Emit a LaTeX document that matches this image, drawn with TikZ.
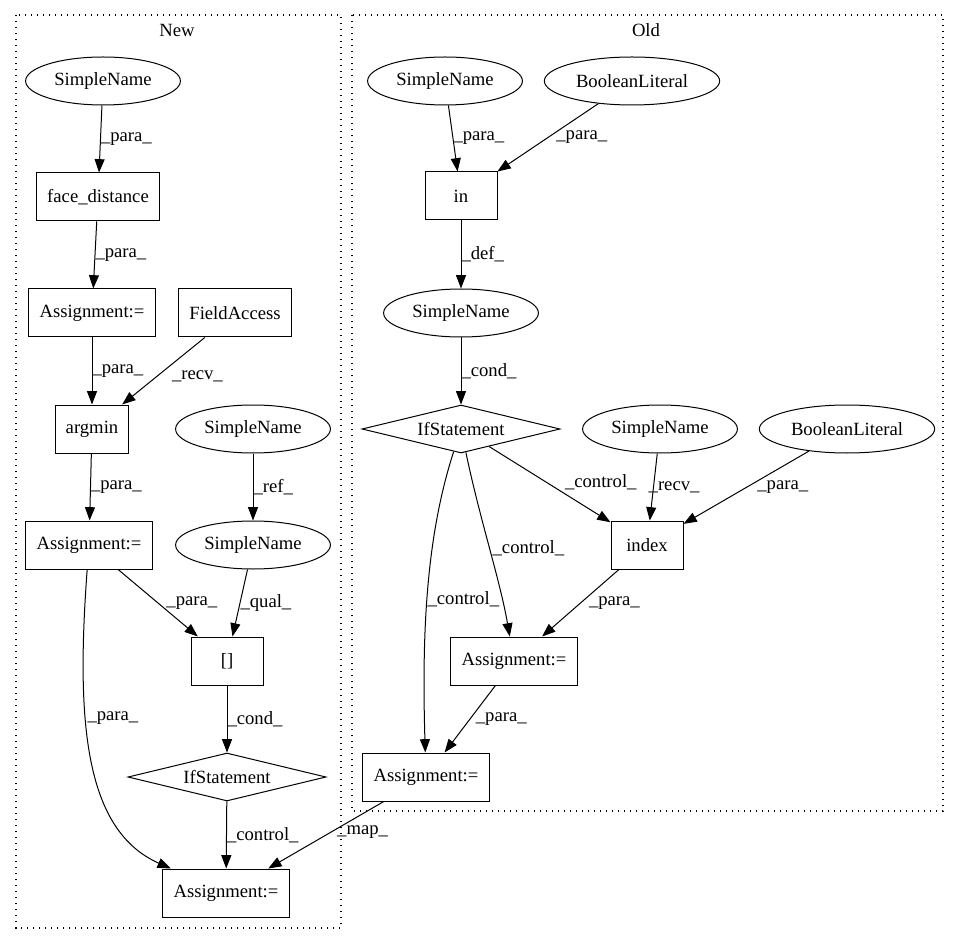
\documentclass[tikz,border=0pt]{standalone}
\usepackage{fontspec}
\setmainfont{Liberation Serif}
\usetikzlibrary{shapes.geometric,arrows.meta}

\tikzset{every picture/.style={line width=0.75pt}}
\tikzset{
  gfont/.style={font=\fontsize{14}{16}\selectfont},
  stmt/.style={gfont, draw, rectangle, minimum width=54pt, minimum height=36pt, inner xsep=8pt},
  sname/.style={gfont, draw, ellipse, minimum height=36pt, inner xsep=4.5pt, inner ysep=0pt},
  cond/.style={gfont, draw, diamond, aspect=4.1, minimum width=148.5pt, minimum height=36pt, inner sep=0pt},
  flow/.style={-{Triangle[length=10pt,width=7.5pt]}},
  elab/.style={gfont, anchor=west, inner sep=0pt},
  cluster/.style={line width=1pt, dash pattern=on 1pt off 3.5pt},
}

\begin{document}
\begin{tikzpicture}[x=0.75pt,y=0.75pt,yscale=-1]
\useasboundingbox (0,0) rectangle (959,944);

% Clusters
\draw[cluster] (16,15) rectangle (341,928);
\draw[cluster] (352,15) rectangle (943,811);
\node[gfont] (newtitle) at (177,30) {New};
\node[gfont] (oldtitle) at (646,30) {Old};

% New
\node[sname] (nsn1) at (103,81) {SimpleName};
\node[stmt] (nfd) at (98,197) {face\_distance};
\node[stmt] (na1) at (92,313) {Assignment:=};
\node[stmt] (nfa) at (235,313) {FieldAccess};
\node[stmt] (narg) at (92,429) {argmin};
\node[sname] (nsn2) at (253,429) {SimpleName};
\node[stmt] (na2) at (89,545) {Assignment:=};
\node[sname] (nsn3) at (253,545) {SimpleName};
\node[stmt] (nidx) at (227,661) {[]};
\node[cond] (nif) at (227,777) {IfStatement};
\node[stmt] (na3) at (226,893) {Assignment:=};

% Old
\node[sname] (osn1) at (445,81) {SimpleName};
\node[sname] (obl1) at (632,81) {BooleanLiteral};
\node[stmt] (oin) at (461,196) {in};
\node[sname] (osn2) at (461,313) {SimpleName};
\node[cond] (oif) at (461,429) {IfStatement};
\node[sname] (osn3) at (660,429) {SimpleName};
\node[sname] (obl2) at (847,429) {BooleanLiteral};
\node[stmt] (oindex) at (647,545) {index};
\node[stmt] (oa1) at (514,661) {Assignment:=};
\node[stmt] (oa2) at (426,777) {Assignment:=};

% New edges
\draw[flow] (nsn1) -- node[elab]{\_para\_} (nfd);
\draw[flow] (nfd) -- node[elab]{\_para\_} (na1);
\draw[flow] (na1) -- node[elab]{\_para\_} (narg);
\draw[flow] (nfa) -- node[elab, xshift=6pt, yshift=-4pt]{\_recv\_} (narg);
\draw[flow] (narg) -- node[elab]{\_para\_} (na2);
\draw[flow] (nsn2) -- node[elab]{\_ref\_} (nsn3);
\draw[flow] (na2) -- node[elab, xshift=6pt]{\_para\_} (nidx);
\draw[flow] (nsn3) -- node[elab]{\_qual\_} (nidx);
\draw[flow] (nidx) -- node[elab]{\_cond\_} (nif);
\draw[flow] (na2) .. controls (76,720) and (84,830) .. node[elab, pos=0.37, xshift=1pt]{\_para\_} (na3);
\draw[flow] (nif) -- node[elab]{\_control\_} (na3);

% Old edges
\draw[flow] (osn1) -- node[elab]{\_para\_} (oin);
\draw[flow] (obl1) -- node[elab, xshift=6pt]{\_para\_} (oin);
\draw[flow] (oin) -- node[elab]{\_def\_} (osn2);
\draw[flow] (osn2) -- node[elab]{\_cond\_} (oif);
\draw[flow] (oif) -- node[elab, xshift=11pt, yshift=2pt]{\_control\_} (oindex);
\draw[flow] (osn3) -- node[elab, xshift=-4pt]{\_recv\_} (oindex);
\draw[flow] (obl2) -- node[elab, xshift=8pt]{\_para\_} (oindex);
\draw[flow] (oif) .. controls (480,520) and (500,580) .. node[elab, xshift=2pt]{\_control\_} (oa1);
\draw[flow] (oif) .. controls (425,540) and (422,640) .. node[elab, pos=0.52]{\_control\_} (oa2);
\draw[flow] (oindex) -- node[elab, xshift=6pt]{\_para\_} (oa1);
\draw[flow] (oa1) -- node[elab, xshift=4pt]{\_para\_} (oa2);

% Mapping
\draw[flow] (oa2) -- node[elab, xshift=8pt, yshift=2pt]{\_map\_} (na3);

\end{tikzpicture}
\end{document}
